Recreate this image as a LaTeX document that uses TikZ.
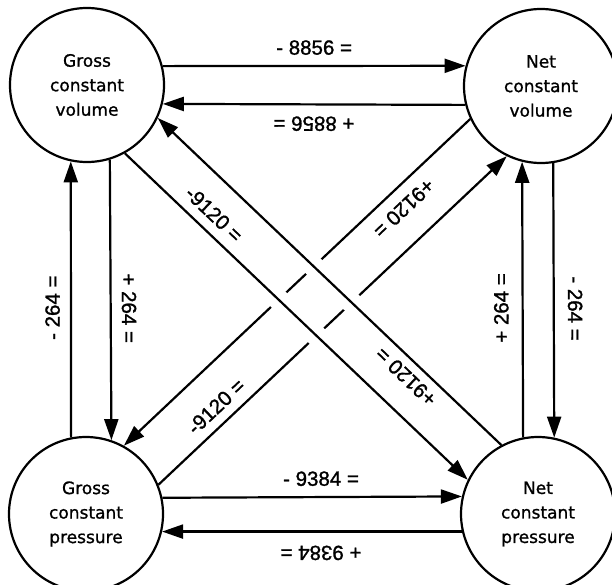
\documentclass[tikz,border=0pt]{standalone}
\usepackage{fontspec}
\newfontfamily\lblfont[FakeBold=1.3]{Liberation Sans}
\newfontfamily\circfont[FakeBold=1.1]{DejaVu Sans}
\usetikzlibrary{arrows.meta}
\begin{document}
\begin{tikzpicture}[x=1pt,y=-1pt,
  state/.style={circle,draw,line width=2.2pt,minimum size=154pt,inner sep=0pt,align=center,
    font=\circfont\fontsize{17}{24.5}\selectfont},
  conn/.style={line width=2.2pt,-{Triangle[length=21pt,width=14pt]}},
  lbl/.style={sloped,allow upside down,inner sep=0pt,font=\lblfont\fontsize{20.5}{24}\selectfont},
  halo/.style={draw=white,line width=21pt,shorten <=150pt,shorten >=150pt}]
\useasboundingbox (0,0) rectangle (612,584);
\clip (0,0) rectangle (612,584);
\node[state] (TL) at (87,85) {Gross\\constant\\volume};
\node[state] (TR) at (541,86) {Net\\constant\\volume};
\node[state] (BL) at (86,514) {Gross\\constant\\pressure};
\node[state] (BR) at (538,514) {Net\\constant\\pressure};
% horizontal
\draw[conn] (TL.14.2) -- node[lbl,above=10pt]{- 8856 =} (TR.165.7);
\draw[conn] (TR.194.3) -- node[lbl,above=11pt]{+ 8856 =} (TL.-14.2);
\draw[conn] (BL.12.75) -- node[lbl,pos=0.53,above=10pt]{- 9384 =} (BR.167.25);
\draw[conn] (BR.193.5) -- node[lbl,pos=0.47,above=13pt]{+ 9384 =} (BL.-13.5);
% vertical
\draw[conn] (BL.101.2) -- node[lbl,pos=0.47,above=10pt]{- 264 =} (TL.258);
\draw[conn] (TL.287.4) -- node[lbl,pos=0.53,above=10pt]{+ 264 =} (BL.71.8);
\draw[conn] (BR.101.2) -- node[lbl,pos=0.47,above=13pt]{+ 264 =} (TR.256.5);
\draw[conn] (TR.279.7) -- node[lbl,pos=0.53,above=13pt]{- 264 =} (BR.78);
% diagonals (broken ones)
\draw[conn] (TR.205.5) -- node[lbl,pos=0.23,above=11pt]{+9120 =} (BL.61.1);
\draw[conn] (BL.22) -- node[lbl,pos=0.2,above=9pt]{-9120 =} (TR.244.6);
% gaps where the other pair crosses
\draw[halo] (TL.-61.4) -- (BR.154.2);
\draw[halo] (BR.118.6) -- (TL.-25.8);
% diagonals (continuous ones)
\draw[conn] (TL.-61.4) -- node[lbl,pos=0.225,above=9pt]{-9120 =} (BR.154.2);
\draw[conn] (BR.118.6) -- node[lbl,pos=0.245,above=8pt]{+9120 =} (TL.-25.8);
\end{tikzpicture}
\end{document}
